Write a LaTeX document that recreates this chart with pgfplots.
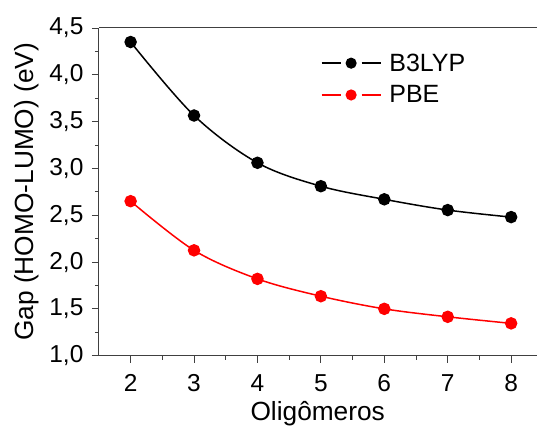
\documentclass[border=0pt]{standalone}
\usepackage{pgfplots}
\pgfplotsset{compat=1.18}
\usepackage{fontspec}
\setmainfont{Liberation Sans}

% HOMO-LUMO gap vs. number of oligomer units
\pgfplotstableread{
n  gap
2  4.35
3  3.565
4  3.06
5  2.81
6  2.67
7  2.555
8  2.48
}\bthreelyp
\pgfplotstableread{
n  gap
2  2.65
3  2.125
4  1.82
5  1.635
6  1.50
7  1.415
8  1.345
}\pbe

\pgfplotsset{
  dotline/.style={
    legend image code/.code={
      \draw[mark=none,line width=1.5pt] (0pt,0pt) -- (19pt,0pt);
      \draw[mark=none,line width=1.5pt] (40pt,0pt) -- (59pt,0pt);
      \fill (29.5pt,0pt) circle (4.8pt);
    }
  }
}

\begin{document}
\begin{tikzpicture}
\begin{axis}[
  name=ax,
  scale only axis,
  width=438pt, height=328pt,
  xmin=1.5, xmax=8.4,
  ymin=1.0, ymax=4.5,
  xtick={2,3,4,5,6,7,8},
  ytick={1.0,1.5,2.0,2.5,3.0,3.5,4.0,4.5},
  minor x tick num=1,
  minor y tick num=1,
  tick align=outside,
  xtick pos=bottom, ytick pos=left,
  major tick length=7pt, minor tick length=4pt,
  tick style={black!75, line width=0.8pt},
  axis line style={black!75, line width=1pt},
  axis x line*=bottom,
  axis y line*=left,
  /pgf/number format/assume math mode=true,
  ticklabel style={font=\fontsize{24.5}{28}\selectfont},
  xticklabel style={yshift=-8pt},
  yticklabel style={xshift=-5pt},
  y tick label style={/pgf/number format/.cd, use comma, fixed, fixed zerofill, precision=1},
  label style={font=\fontsize{26.3}{30}\selectfont},
  xlabel={Oligômeros},
  ylabel={Gap (HOMO-LUMO) (eV)},
  xlabel style={yshift=-3pt},
  ylabel style={yshift=4pt},
  legend style={draw=none, fill=none, at={(axis cs:4.95,4.27)}, anchor=north west,
    font=\fontsize{25}{28}\selectfont, row sep=9pt,
    /tikz/every odd column/.append style={column sep=6pt}},
  legend cell align=left,
  clip=false,
]
\draw[black!75, line width=1pt] (rel axis cs:0,1) -- (rel axis cs:1,1);
\addplot[black, line width=1.5pt, smooth, tension=0.55, mark=*, mark size=5.5pt, dotline]
  table[x=n, y=gap] {\bthreelyp};
\addlegendentry{B3LYP}
\addplot[red, line width=1.5pt, smooth, tension=0.55, mark=*, mark size=5.5pt, dotline]
  table[x=n, y=gap] {\pbe};
\addlegendentry{PBE}
\end{axis}
% page margins around the plot area
\path[use as bounding box] ([xshift=-99pt,yshift=-69pt]ax.south west) rectangle ([yshift=28pt]ax.north east);
\end{tikzpicture}
\end{document}
